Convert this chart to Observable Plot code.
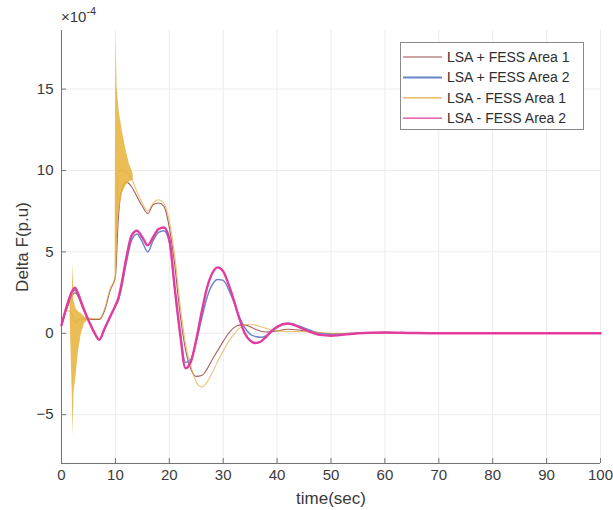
<!DOCTYPE html>
<html>
<head>
<meta charset="utf-8">
<script src="https://cdn.jsdelivr.net/npm/d3@7"></script>
<script src="https://cdn.jsdelivr.net/npm/@observablehq/plot@0.6"></script>
<style>
  body { margin: 0; background: #fff; font-family: "Liberation Sans", Arial, Helvetica, sans-serif; }
  #wrap { position: relative; width: 613px; height: 510px; }
  #scale { position: absolute; left: 61px; top: 6px; font-size: 15px; color: #3a3a3a; }
  #scale sup { font-size: 11px; position: relative; top: -1px; }
  #legend { position: absolute; left: 400px; top: 42px; }
</style>
</head>
<body>
<div id="wrap">
  <div id="chart"></div>
  <div id="scale">×10<sup>-4</sup></div>
  <div id="legend"></div>
</div>
<script>
// Frequency deviation (×10^-4 p.u.) after the disturbance, sampled in seconds
const time = [0,1,2,2.5,3,4,5,6,7,8,9,10,10.5,11,12,13,14,15,16,17,18,19,20,21,22,23,24,25,26,27,28,29,30,31,32,33,34,35,36,37,38,39,40,42,44,46,48,50,55,60,65,70,80,90,100];

const lsaPlusFessArea1 = [0.5,1.5,2.3,2.5,2.3,1.5,0.9,0.85,0.85,1.4,2.6,3.5,6.8,8.6,9.3,9.0,8.4,7.8,7.35,7.9,8.0,7.8,6.5,4.2,1.2,-1.0,-2.2,-2.65,-2.6,-2.2,-1.6,-1.05,-0.5,0.0,0.35,0.5,0.5,0.4,0.25,0.12,0.08,0.1,0.15,0.25,0.2,0.1,0.0,-0.05,0.0,0.05,0.02,0,0,0,0];

const lsaPlusFessArea2 = [0.5,1.6,2.5,2.65,2.4,1.6,0.8,0.1,-0.4,0.3,1.0,1.7,2.0,2.6,4.3,5.7,6.1,5.6,5.0,5.7,6.2,6.3,5.6,2.8,0.1,-1.8,-1.6,-0.5,0.9,2.2,3.0,3.3,3.25,2.7,1.9,1.0,0.35,-0.05,-0.2,-0.25,-0.15,0.1,0.35,0.6,0.45,0.2,0.0,-0.05,0.0,0.05,0.02,0,0,0,0];

const lsaMinusFessArea1 = [0.5,1.4,1.2,0.6,0.8,0.9,0.9,0.9,0.9,1.5,2.7,3.5,10.0,10.0,9.9,9.5,8.7,8.0,7.5,8.0,8.2,8.0,6.9,4.8,1.8,-0.6,-2.0,-3.0,-3.3,-3.0,-2.4,-1.7,-1.1,-0.5,-0.05,0.3,0.5,0.55,0.5,0.4,0.3,0.2,0.15,0.1,0.1,0.1,0.05,0.0,0.0,0.02,0.0,0,0,0,0];

const lsaMinusFessArea2 = [0.5,1.7,2.6,2.8,2.5,1.6,0.8,0.1,-0.4,0.3,1.0,1.7,2.1,2.8,4.6,6.0,6.3,5.9,5.4,5.9,6.4,6.5,5.8,2.8,0.0,-2.15,-1.75,-0.4,1.3,2.8,3.7,4.05,3.8,3.0,2.0,0.9,0.0,-0.45,-0.6,-0.5,-0.2,0.15,0.4,0.6,0.4,0.1,-0.1,-0.15,0.0,0.05,0.02,0,0,0,0];

// Envelope of the fast oscillation in LSA - FESS Area 1 (two bursts)
const burst1Time = [1.6,2.0,2.15,2.3,2.7,3.2,3.7,4.3,5.0];
const burst1Low  = [1.0,-3.8,-6.3,-3.7,-2.6,-1.0,0.0,0.6,0.85];
const burst1High = [1.9,2.4,4.3,2.0,1.5,1.3,1.2,1.0,0.95];

const burst2Time = [9.95,10.05,10.15,10.3,10.7,11.3,12.0,12.6,13.3];
const burst2Low  = [3.4,3.4,3.6,5.5,7.5,8.6,9.1,9.3,9.4];
const burst2High = [3.6,15.0,18.2,15.2,13.6,12.4,11.2,10.4,9.8];

const xTicks = [0,10,20,30,40,50,60,70,80,90,100];
const yTicks = [-5,0,5,10,15];

const seriesNames = ["LSA + FESS Area 1","LSA + FESS Area 2","LSA - FESS Area 1","LSA - FESS Area 2"];
const seriesColors = ["#9a4f4a","#6a88c8","#e2ac45","#e23c9e"];
const seriesWidths = [1.1,1.5,1.1,2.4];
const seriesOpacity = [0.9,1,0.7,1];
const seriesValues = [lsaPlusFessArea1,lsaPlusFessArea2,lsaMinusFessArea1,lsaMinusFessArea2];

const rows = (values, name) => time.map((t, i) => ({t, v: values[i], name}));
const bandRows = (ts, lo, hi) => ts.map((t, i) => ({t, lo: lo[i], hi: hi[i]}));
const band1 = bandRows(burst1Time, burst1Low, burst1High);
const band2 = bandRows(burst2Time, burst2Low, burst2High);

const lineMark = k => Plot.line(rows(seriesValues[k], seriesNames[k]), {
  x: "t", y: "v", stroke: seriesColors[k], strokeWidth: seriesWidths[k],
  strokeOpacity: seriesOpacity[k], curve: "monotone-x"
});

const chart = Plot.plot({
  width: 613,
  height: 510,
  marginLeft: 61,
  marginRight: 13,
  marginTop: 30,
  marginBottom: 47,
  style: {fontFamily: '"Liberation Sans", Arial, Helvetica, sans-serif', background: "#fff"},
  x: {domain: [0, 100]},
  y: {domain: [-8, 18.6]},
  marks: [
    Plot.gridX(xTicks, {stroke: "#ebebeb", strokeOpacity: 1}),
    Plot.gridY(yTicks, {stroke: "#ebebeb", strokeOpacity: 1}),
    lineMark(0),
    lineMark(1),
    Plot.areaY(band1, {x: "t", y1: "lo", y2: "hi", fill: "#e8b23a", fillOpacity: 0.85, curve: "linear"}),
    Plot.areaY(band2, {x: "t", y1: "lo", y2: "hi", fill: "#e8b23a", fillOpacity: 0.85, curve: "linear"}),
    lineMark(2),
    lineMark(3),
    Plot.ruleX([0], {stroke: "#747474"}),
    Plot.ruleY([-8], {stroke: "#747474"}),
    Plot.axisX(xTicks, {tickSize: -5, tickPadding: 11, fontSize: 15, color: "#3a3a3a", stroke: "#747474", label: null}),
    Plot.axisY(yTicks, {tickSize: -5, tickPadding: 13, fontSize: 15, color: "#3a3a3a", stroke: "#747474", label: null}),
    Plot.axisX([], {label: "time(sec)", labelAnchor: "center", labelArrow: "none", labelOffset: 40, fontSize: 17, color: "#3a3a3a"}),
    Plot.axisY([], {label: "Delta F(p.u)", labelAnchor: "center", labelArrow: "none", labelOffset: 46, fontSize: 17, color: "#3a3a3a"})
  ]
});
document.getElementById("chart").appendChild(chart);

// Legend box
const lg = d3.select("#legend").append("svg").attr("width", 184).attr("height", 88);
lg.append("rect").attr("x", 0.5).attr("y", 0.5).attr("width", 183).attr("height", 87)
  .attr("fill", "#fff").attr("stroke", "#8a8a8a");
const legendWidths = [1.2,2,1.2,1.2];
seriesNames.forEach((name, i) => {
  const y = 15 + i * 20.4;
  lg.append("line").attr("x1", 3).attr("x2", 42).attr("y1", y).attr("y2", y)
    .attr("stroke", seriesColors[i]).attr("stroke-width", legendWidths[i]);
  lg.append("text").attr("x", 47).attr("y", y).attr("dy", "0.35em")
    .attr("font-size", 14).attr("fill", "#2e2e2e")
    .attr("font-family", '"Liberation Sans", Arial, Helvetica, sans-serif')
    .text(name);
});
</script>
</body>
</html>
